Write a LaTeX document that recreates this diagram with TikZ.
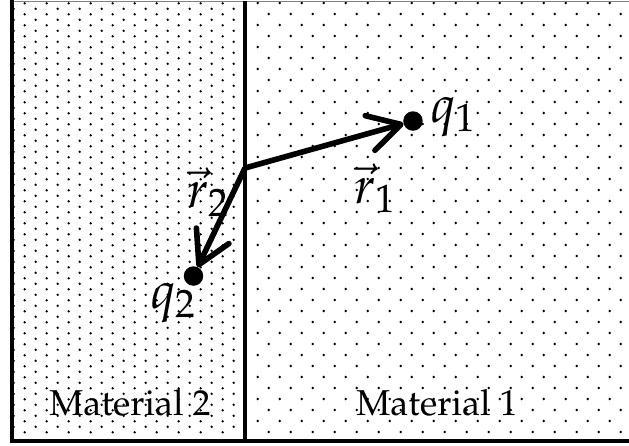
\documentclass[tikz,border=0pt]{standalone}
\usepackage[T1]{fontenc}
\usepackage{mathpazo}
\usetikzlibrary{arrows.meta,positioning}

\begin{document}
\begin{tikzpicture}[
    x=0.5pt, y=-0.5pt,
    charge/.style={circle, fill=black, inner sep=0pt, outer sep=0pt, minimum size=9.75pt},
    vec/.style={-{Straight Barb[length=16pt, width=18pt, round]}, line width=2.8pt},
    speck/.style={fill=black},
    wall/.style={line width=2pt},
    sym/.style={font=\fontsize{26}{30}\selectfont, inner sep=0pt},
    matlabel/.style={font=\fontsize{18}{22}\selectfont, inner sep=0pt, anchor=base}
]
    \useasboundingbox (0,0) rectangle (629,446);

    % material 1 (coarse dots)
    \foreach \j in {0,...,39}{
        \pgfmathsetmacro\xs{257.7+11*mod(\j,2)}
        \foreach \k in {0,...,16}
            \fill[speck] (\xs+22*\k, 3+11*\j) circle[radius=1.35];
    }
    % material 2 (fine dots)
    \foreach \j in {0,...,78}{
        \pgfmathsetmacro\xs{24.7-11*mod(\j,2)}
        \pgfmathtruncatemacro\kmax{10-mod(\j+1,2)}
        \foreach \k in {0,...,\kmax}
            \fill[speck] (\xs+22*\k, 3.3+5.5*\j) circle[radius=1.35];
    }

    \draw[gray, line width=0.5pt] (12,1) -- (629,1);
    \draw[wall] (12,0) -- (12,441) -- (629,441);
    \draw[line width=1.6pt] (245,1) -- (245,441);

    \coordinate (O) at (245,168);
    \node[charge] (q1dot) at (413,121) {};
    \node[charge] (q2dot) at (193.5,276) {};

    \draw[vec] (O) -- (q1dot);
    \draw[vec] (O) -- (q2dot);

    \node[sym, anchor=base west] (q1) at (430,122) {$q_1$};
    \node[sym, anchor=base west] (q2) at (150,308) {$q_2$};
    \node[sym, anchor=base west] (r1) at (354,203) {$\vec{r}_1$};
    \node[sym, anchor=base west] (r2) at (187,207) {$\vec{r}_2$};

    \node[matlabel] (mat2) at (130,415) {Material 2};
    \node[matlabel] (mat1) at (437,415) {Material 1};
\end{tikzpicture}
\end{document}
